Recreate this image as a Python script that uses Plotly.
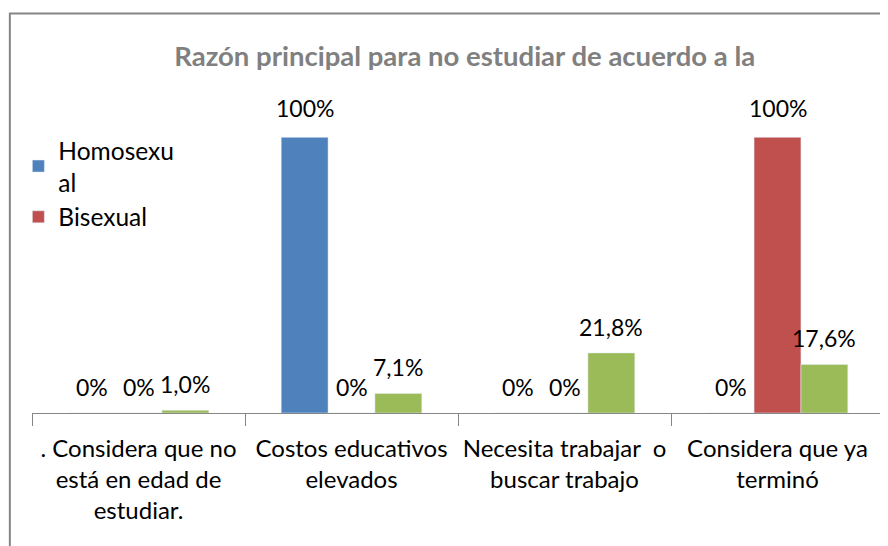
import plotly.graph_objects as go

categories = [". Considera que no<br>está en edad de<br>estudiar.",
              "Costos educativos<br>elevados",
              "Necesita trabajar  o<br>buscar trabajo",
              "Considera que ya<br>terminó"]
homosexual = [0, 100, 0, 0]
bisexual = [0, 0, 0, 100]
heterosexual = [1.0, 7.1, 21.8, 17.6]

def fmt(v):
    if v == 0 or v == 100:
        return f"{int(v)}%"
    return f"{v:.1f}%".replace(".", ",")

FONT = "Lato, Carlito, Calibri, sans-serif"
fig = go.Figure()
fig.add_bar(x=categories, y=homosexual, name="Homosexu<br>al", marker_color="#4F81BD")
fig.add_bar(x=categories, y=bisexual, name="Bisexual", marker_color="#C0504D")
fig.add_bar(x=categories, y=heterosexual, name="Heterosexual", marker_color="#9BBB59",
            showlegend=False)

# data labels placed above each bar via axis coordinates
BAR_PX = 852 / 4 * 0.66 / 3
annotations = []
for k, series in enumerate([homosexual, bisexual, heterosexual]):
    for cat, v in zip(categories, series):
        annotations.append(dict(x=cat, y=v, xref="x", yref="y", text=fmt(v),
                                showarrow=False, xshift=(k - 1) * BAR_PX,
                                yshift=29 if v >= 100 else 26,
                                yanchor="middle",
                                font=dict(size=23, color="black", family=FONT)))

fig.update_layout(
    width=880, height=538,
    margin=dict(l=24, r=4, t=88, b=133, autoexpand=False),
    paper_bgcolor="white", plot_bgcolor="white",
    barmode="group", bargap=0.34, bargroupgap=0,
    font=dict(family=FONT, color="black"),
    title=dict(text="<b>Razón principal para no estudiar de acuerdo a la</b>",
               x=0.519, xanchor="center", y=0.911, yanchor="middle",
               font=dict(size=27.5, color="#808080", family=FONT)),
    legend=dict(x=-0.016, y=0.90, xanchor="left", yanchor="top",
                font=dict(size=24.5, color="black", family=FONT),
                bgcolor="rgba(0,0,0,0)", itemwidth=30),
    xaxis=dict(showline=True, linecolor="#868686", linewidth=1, automargin=False,
               ticks="outside", tickson="boundaries", ticklen=12, tickcolor="#868686",
               ticklabelstandoff=14, tickangle=0,
               tickfont=dict(size=24, color="black", family=FONT), showgrid=False),
    yaxis=dict(range=[0, 115], visible=False, showgrid=False, automargin=False),
    annotations=annotations,
    shapes=[dict(type="rect", xref="paper", yref="paper",
                 x0=-0.026, x1=1.2, y0=-1, y1=1.26,
                 line=dict(color="#868686", width=2), fillcolor="rgba(0,0,0,0)", layer="below")],
)
fig.write_html("out.html")
